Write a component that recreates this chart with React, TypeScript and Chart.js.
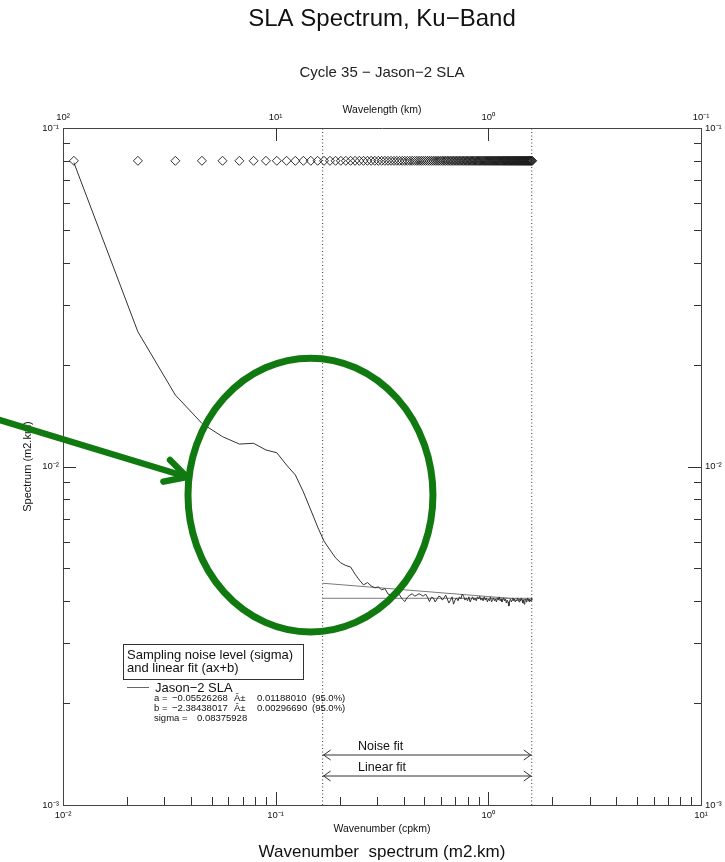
import React, { useEffect, useRef } from 'react';
import { Chart, registerables } from 'chart.js';

Chart.register(...registerables);

const FONT = '"Liberation Sans", Arial, Helvetica, sans-serif';

// Wavenumber grid (cpkm) of the spectrum estimate
const wavenumbers = [
  0.01125, 0.0225, 0.03375, 0.045, 0.05625, 0.0675, 0.07875, 0.09, 0.10125, 0.1125,
  0.12375, 0.135, 0.14625, 0.1575, 0.16875, 0.18, 0.19125, 0.2025, 0.21375, 0.225,
  0.23625, 0.2475, 0.25875, 0.27, 0.28125, 0.2925, 0.30375, 0.315, 0.32625, 0.3375,
  0.34875, 0.36, 0.37125, 0.3825, 0.39375, 0.405, 0.41625, 0.4275, 0.43875, 0.45,
  0.46125, 0.4725, 0.48375, 0.495, 0.50625, 0.5175, 0.52875, 0.54, 0.55125, 0.5625,
  0.57375, 0.585, 0.59625, 0.6075, 0.61875, 0.63, 0.64125, 0.6525, 0.66375, 0.675,
  0.68625, 0.6975, 0.70875, 0.72, 0.73125, 0.7425, 0.75375, 0.765, 0.77625, 0.7875,
  0.79875, 0.81, 0.82125, 0.8325, 0.84375, 0.855, 0.86625, 0.8775, 0.88875, 0.9,
  0.91125, 0.9225, 0.93375, 0.945, 0.95625, 0.9675, 0.97875, 0.99, 1.00125, 1.0125,
  1.02375, 1.035, 1.04625, 1.0575, 1.06875, 1.08, 1.09125, 1.1025, 1.11375, 1.125,
  1.13625, 1.1475, 1.15875, 1.17, 1.18125, 1.1925, 1.20375, 1.215, 1.22625, 1.2375,
  1.24875, 1.26, 1.27125, 1.2825, 1.29375, 1.305, 1.31625, 1.3275, 1.33875, 1.35,
  1.36125, 1.3725, 1.38375, 1.395, 1.40625, 1.4175, 1.42875, 1.44, 1.45125, 1.4625,
  1.47375, 1.485, 1.49625, 1.5075, 1.51875, 1.53, 1.54125, 1.5525, 1.56375, 1.575,
  1.58625, 1.5975, 1.60875,
];

// Jason-2 SLA spectrum (m2.km)
const spectrum = [
  0.0790, 0.0250, 0.01626, 0.01341, 0.01225, 0.01165, 0.01171, 0.01119, 0.01098, 0.01010,
  0.00944, 0.00841, 0.00744, 0.00663, 0.00602, 0.00567, 0.00537, 0.00519, 0.00510, 0.00505,
  0.00481, 0.00462, 0.00447, 0.00454, 0.00444, 0.00438, 0.00441, 0.00432, 0.00436, 0.00420,
  0.00417, 0.00414, 0.00426, 0.00417, 0.00406, 0.00399, 0.00411, 0.00417, 0.00421, 0.00414,
  0.00417, 0.00421, 0.00417, 0.00414, 0.00420, 0.00411, 0.00399, 0.00411, 0.00409, 0.00398,
  0.00406, 0.00414, 0.00412, 0.00403, 0.00409, 0.00417, 0.00406, 0.00395, 0.00403, 0.00412,
  0.00392, 0.00403, 0.00409, 0.00401, 0.00412, 0.00406, 0.00420, 0.00414, 0.00403, 0.00409,
  0.00401, 0.00412, 0.00398, 0.00406, 0.00412, 0.00403, 0.00409, 0.00401, 0.00412, 0.00406,
  0.00414, 0.00403, 0.00409, 0.00401, 0.00412, 0.00403, 0.00409, 0.00398, 0.00406, 0.00401,
  0.00412, 0.00398, 0.00403, 0.00409, 0.00401, 0.00406, 0.00398, 0.00409, 0.00403, 0.00412,
  0.00401, 0.00406, 0.00398, 0.00403, 0.00409, 0.00401, 0.00406, 0.00395, 0.00403, 0.00398,
  0.00387, 0.00401, 0.00406, 0.00398, 0.00403, 0.00409, 0.00401, 0.00406, 0.00398, 0.00403,
  0.00401, 0.00409, 0.00403, 0.00398, 0.00406, 0.00401, 0.00409, 0.00403, 0.00395, 0.00403,
  0.00392, 0.00401, 0.00406, 0.00398, 0.00403, 0.00409, 0.00401, 0.00406, 0.00398, 0.00403,
  0.00401, 0.00409, 0.00403,
];

const diamondLevel = 0.08;
const sigmaLevel = 0.00408;
const fitWindow = [0.1663, 1.6];
const linearFitValues = [0.00452, 0.00403];
const noiseArrowLevel = 0.001405;
const linearArrowLevel = 0.001218;
const noiseLabelLevel = 0.00149;
const linearLabelLevel = 0.00129;
const rangeLabelK = 0.244;

const xDecades = [0.01, 0.1, 1, 10];
const wavelengthDecades = [100, 10, 1, 0.1];
const yDecades = [0.001, 0.01, 0.1];
const minorMantissas = [2, 3, 4, 5, 6, 7, 8, 9];

const legendTitleLines = ['Sampling noise level (sigma)', 'and linear fit (ax+b)'];
const seriesName = 'Jason\u22122 SLA';
const fitRows = [
  ['a =', '\u22120.05526268', '\u00C2\u00B1', '0.01188010', '(95.0%)'],
  ['b =', '\u22122.38438017', '\u00C2\u00B1', '0.00296690', '(95.0%)'],
  ['sigma =', '0.08375928'],
];

const ellipseBox = { kMin: 0.0387, kMax: 0.549, sMax: 0.0209, sMin: 0.003244 };
const pointerFrom = { k: 0.005055, s: 0.01372 };
const pointerTo = { k: 0.03828, s: 0.00931 };

const SUP: Record<string, string> = {
  '-': '\u207B', '0': '\u2070', '1': '\u00B9', '2': '\u00B2', '3': '\u00B3',
};
const decadeLabel = (v: number) =>
  '10' + String(Math.round(Math.log10(v))).split('').map((c) => SUP[c] || c).join('');

const overlayPlugin = {
  id: 'overlay',
  afterDraw(chart: any) {
    const ctx: CanvasRenderingContext2D = chart.ctx;
    const { x, x2, y } = chart.scales;
    const a = chart.chartArea;
    const seg = (x1: number, y1: number, xx: number, yy: number) => {
      ctx.beginPath();
      ctx.moveTo(x1, y1);
      ctx.lineTo(xx, yy);
      ctx.stroke();
    };
    const text = (t: string, px: number, py: number, size: number, align: CanvasTextAlign = 'left') => {
      ctx.font = `${size}px ${FONT}`;
      ctx.textAlign = align;
      ctx.textBaseline = 'middle';
      ctx.fillText(t, px, py);
    };
    ctx.save();

    // inward tick marks
    ctx.strokeStyle = '#333';
    ctx.lineWidth = 1;
    const yLo = yDecades[0];
    const yHi = yDecades[yDecades.length - 1];
    for (const d of yDecades) {
      for (const m of [1, ...minorMantissas]) {
        const v = d * m;
        if (v <= yLo * 1.0001 || v >= yHi * 0.9999) continue;
        const len = m === 1 ? 13 : 7;
        const py = Math.round(y.getPixelForValue(v)) + 0.5;
        seg(a.left, py, a.left + len, py);
        seg(a.right, py, a.right - len, py);
      }
    }
    const xLo = xDecades[0];
    const xHi = xDecades[xDecades.length - 1];
    for (const d of xDecades) {
      for (const m of [1, ...minorMantissas]) {
        const v = d * m;
        if (v <= xLo * 1.0001 || v >= xHi * 0.9999) continue;
        const len = m === 1 ? 13 : 8;
        const px = Math.round(x.getPixelForValue(v)) + 0.5;
        seg(px, a.bottom, px, a.bottom - len);
      }
    }
    for (const w of wavelengthDecades) {
      if (w >= 100 || w <= 0.1) continue;
      const px = Math.round(x2.getPixelForValue(w)) + 0.5;
      seg(px, a.top, px, a.top + 13);
    }

    // double arrow heads for the fit ranges
    ctx.strokeStyle = '#333';
    ctx.lineWidth = 1;
    for (const lvl of [noiseArrowLevel, linearArrowLevel]) {
      const py = y.getPixelForValue(lvl);
      const l = x.getPixelForValue(fitWindow[0]);
      const r = x.getPixelForValue(fitWindow[1]);
      ctx.beginPath();
      ctx.moveTo(l + 8, py - 5);
      ctx.lineTo(l + 1, py);
      ctx.lineTo(l + 8, py + 5);
      ctx.moveTo(r - 8, py - 5);
      ctx.lineTo(r - 1, py);
      ctx.lineTo(r - 8, py + 5);
      ctx.stroke();
    }
    ctx.fillStyle = '#111';
    text('Noise fit', x.getPixelForValue(rangeLabelK), y.getPixelForValue(noiseLabelLevel), 12.5);
    text('Linear fit', x.getPixelForValue(rangeLabelK), y.getPixelForValue(linearLabelLevel), 12.5);

    // legend block
    ctx.strokeStyle = '#333';
    ctx.lineWidth = 1;
    ctx.strokeRect(123.5, 644.5, 180, 35);
    ctx.fillStyle = '#111';
    text(legendTitleLines[0], 127, 655, 13);
    text(legendTitleLines[1], 127, 668, 13);
    ctx.strokeStyle = '#666';
    seg(127, 687.5, 149, 687.5);
    text(seriesName, 155, 688, 13);
    const colX = [154, 172, 234, 257, 312];
    const sigmaX = [154, 197];
    fitRows.forEach((row, i) => {
      const xs = row.length === 2 ? sigmaX : colX;
      row.forEach((t, j) => text(t, xs[j], 698.5 + i * 9.7, 9.5));
    });

    // green annotation: ellipse + pointer arrow
    const green = 'rgb(16,122,16)';
    ctx.strokeStyle = green;
    ctx.lineWidth = 7;
    const ex1 = x.getPixelForValue(ellipseBox.kMin);
    const ex2 = x.getPixelForValue(ellipseBox.kMax);
    const ey1 = y.getPixelForValue(ellipseBox.sMax);
    const ey2 = y.getPixelForValue(ellipseBox.sMin);
    ctx.beginPath();
    ctx.ellipse((ex1 + ex2) / 2, (ey1 + ey2) / 2, (ex2 - ex1) / 2, (ey2 - ey1) / 2, 0, 0, Math.PI * 2);
    ctx.stroke();
    const fx = x.getPixelForValue(pointerFrom.k);
    const fy = y.getPixelForValue(pointerFrom.s);
    const tx = x.getPixelForValue(pointerTo.k);
    const ty = y.getPixelForValue(pointerTo.s);
    ctx.lineWidth = 6.5;
    ctx.lineCap = 'round';
    seg(fx - 5, fy - 1.5, tx - 3, ty - 1);
    const ang = Math.atan2(fy - ty, fx - tx);
    const armLen = 24;
    const spread = (28 * Math.PI) / 180;
    ctx.beginPath();
    ctx.moveTo(tx + armLen * Math.cos(ang + spread), ty + armLen * Math.sin(ang + spread));
    ctx.lineTo(tx, ty);
    ctx.lineTo(tx + armLen * Math.cos(ang - spread), ty + armLen * Math.sin(ang - spread));
    ctx.lineJoin = 'round';
    ctx.stroke();

    // bottom caption
    ctx.fillStyle = '#111';
    text('Wavenumber  spectrum (m2.km)', (a.left + a.right) / 2, 852, 17, 'center');

    ctx.restore();
  },
};

export default function App() {
  const ref = useRef<HTMLCanvasElement | null>(null);

  useEffect(() => {
    if (!ref.current) return;
    const lineDs = (data: { x: number; y: number }[], color: string, extra: any = {}) => ({
      data,
      showLine: true,
      borderColor: color,
      borderWidth: 1,
      pointRadius: 0,
      fill: false,
      tension: 0,
      ...extra,
    });
    const tickFont = { family: FONT, size: 9.5 };
    const border = { display: true, color: '#444', width: 1 };
    const grid = { display: false, drawTicks: false };

    const chart = new Chart(ref.current, {
      type: 'scatter',
      data: {
        datasets: [
          {
            data: wavenumbers.map((k) => ({ x: k, y: diamondLevel })),
            showLine: false,
            pointStyle: 'rectRot',
            pointRadius: 4.5,
            pointBorderWidth: 0.9,
            pointBorderColor: '#1a1a1a',
            pointBackgroundColor: 'rgba(0,0,0,0)',
          } as any,
          lineDs(wavenumbers.map((k, i) => ({ x: k, y: spectrum[i] })), '#333'),
          lineDs(
            [
              { x: fitWindow[0], y: sigmaLevel },
              { x: wavenumbers[wavenumbers.length - 1], y: sigmaLevel },
            ],
            '#7a7a7a'
          ),
          lineDs(
            [
              { x: fitWindow[0], y: linearFitValues[0] },
              { x: wavenumbers[wavenumbers.length - 1], y: linearFitValues[1] },
            ],
            '#7a7a7a'
          ),
          lineDs(
            [
              { x: fitWindow[0], y: yDecades[0] },
              { x: fitWindow[0], y: yDecades[2] },
            ],
            '#333',
            { borderDash: [1, 2.5] }
          ),
          lineDs(
            [
              { x: fitWindow[1], y: yDecades[0] },
              { x: fitWindow[1], y: yDecades[2] },
            ],
            '#333',
            { borderDash: [1, 2.5] }
          ),
          lineDs(
            [
              { x: fitWindow[0], y: noiseArrowLevel },
              { x: fitWindow[1], y: noiseArrowLevel },
            ],
            '#333'
          ),
          lineDs(
            [
              { x: fitWindow[0], y: linearArrowLevel },
              { x: fitWindow[1], y: linearArrowLevel },
            ],
            '#333'
          ),
        ],
      },
      options: {
        responsive: false,
        animation: false,
        events: [],
        layout: { padding: { top: 0, left: 0, right: 0, bottom: 22 } },
        plugins: {
          legend: { display: false },
          tooltip: { enabled: false },
          title: {
            display: true,
            text: 'SLA Spectrum, Ku\u2212Band',
            fullSize: false,
            color: '#111',
            font: { family: FONT, size: 24, weight: 'normal' },
            padding: { top: 5, bottom: 0 },
          },
          subtitle: {
            display: true,
            text: 'Cycle 35 \u2212 Jason\u22122 SLA',
            fullSize: false,
            color: '#222',
            font: { family: FONT, size: 15, weight: 'normal' },
            padding: { top: 29.7, bottom: 16.5 },
          },
        },
        scales: {
          x: {
            type: 'logarithmic',
            position: 'bottom',
            min: xDecades[0],
            max: xDecades[xDecades.length - 1],
            grid,
            border,
            afterBuildTicks: (s: any) => {
              s.ticks = xDecades.map((v) => ({ value: v }));
            },
            afterFit: (s: any) => {
              s.height = 35;
            },
            ticks: {
              autoSkip: false,
              maxRotation: 0,
              padding: 5,
              color: '#111',
              font: tickFont,
              callback: (v: any) => decadeLabel(Number(v)),
            },
            title: {
              display: true,
              text: 'Wavenumber (cpkm)',
              color: '#111',
              font: { family: FONT, size: 10.5 },
              padding: { top: 0, bottom: 4.7 },
            },
          },
          x2: {
            type: 'logarithmic',
            position: 'top',
            reverse: true,
            min: wavelengthDecades[wavelengthDecades.length - 1],
            max: wavelengthDecades[0],
            grid,
            border,
            afterBuildTicks: (s: any) => {
              s.ticks = wavelengthDecades.map((v) => ({ value: v }));
            },
            afterFit: (s: any) => {
              s.height = 30;
            },
            ticks: {
              autoSkip: false,
              maxRotation: 0,
              padding: 4.6,
              color: '#111',
              font: tickFont,
              callback: (v: any) => decadeLabel(Number(v)),
            },
            title: {
              display: true,
              text: 'Wavelength (km)',
              color: '#111',
              font: { family: FONT, size: 10.5 },
              padding: { top: 5.7, bottom: 0 },
            },
          },
          y: {
            type: 'logarithmic',
            position: 'left',
            min: yDecades[0],
            max: yDecades[yDecades.length - 1],
            grid,
            border,
            afterBuildTicks: (s: any) => {
              s.ticks = yDecades.map((v) => ({ value: v }));
            },
            afterFit: (s: any) => {
              s.width = 63;
            },
            ticks: {
              autoSkip: false,
              padding: 4,
              color: '#111',
              font: tickFont,
              callback: (v: any) => decadeLabel(Number(v)),
            },
            title: {
              display: true,
              text: 'Spectrum (m2.km)',
              color: '#111',
              font: { family: FONT, size: 11 },
              padding: { top: 21, bottom: 0 },
            },
          },
          y2: {
            type: 'logarithmic',
            position: 'right',
            min: yDecades[0],
            max: yDecades[yDecades.length - 1],
            grid,
            border,
            afterBuildTicks: (s: any) => {
              s.ticks = yDecades.map((v) => ({ value: v }));
            },
            afterFit: (s: any) => {
              s.width = 24;
            },
            ticks: {
              autoSkip: false,
              padding: 4,
              color: '#111',
              font: tickFont,
              callback: (v: any) => decadeLabel(Number(v)),
            },
          },
        },
      } as any,
      plugins: [overlayPlugin],
    });
    return () => chart.destroy();
  }, []);

  return (
    <div style={{ position: 'absolute', left: 0, top: 0, width: 725, height: 862, background: '#fff' }}>
      <canvas ref={ref} width={725} height={862} style={{ display: 'block' }} />
    </div>
  );
}
